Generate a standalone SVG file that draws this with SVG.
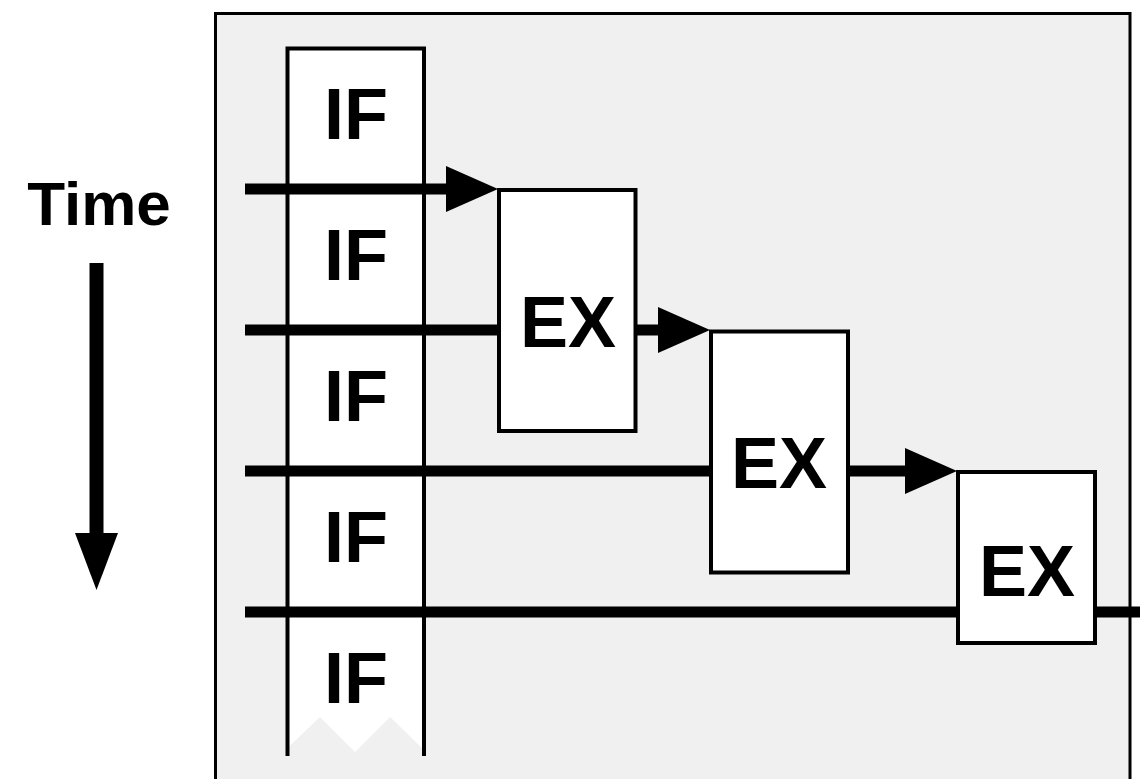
<svg xmlns="http://www.w3.org/2000/svg" width="1143" height="779" viewBox="0 0 1143 779">
  <style>
    .lbl { font-family: "Liberation Sans", Arial, sans-serif; font-weight: bold; fill: #000; text-anchor: middle; }
    .if { font-size: 72px; }
    .ex { font-size: 72px; }
    .box { fill: #fff; stroke: #000; stroke-width: 4; }
    .wire { stroke: #000; stroke-width: 11; fill: none; }
    .head { fill: #000; }
  </style>

  <rect width="1143" height="779" fill="#fff"/>

  <!-- outer frame (continues below the visible area) -->
  <rect id="frame" x="215.5" y="13.5" width="914.5" height="800" fill="#f0f0f0" stroke="#000" stroke-width="3"/>

  <!-- time axis -->
  <g id="time">
    <text class="lbl" x="99" y="225" font-size="62">Time</text>
    <line x1="96.5" y1="263" x2="96.5" y2="536" stroke="#000" stroke-width="14"/>
    <polygon class="head" points="75,533 118,533 96.5,590"/>
  </g>

  <!-- instruction-fetch column with torn bottom edge -->
  <g id="if-column">
    <polygon points="287.5,48.5 424,48.5 424,750 390,717 355,752 320,717 287.5,748" fill="#fff"/>
    <polyline points="287.5,756 287.5,48.5 424,48.5 424,756" fill="none" stroke="#000" stroke-width="4"/>
    <text class="lbl if" x="356" y="139">IF</text>
    <text class="lbl if" x="356" y="280">IF</text>
    <text class="lbl if" x="356" y="421">IF</text>
    <text class="lbl if" x="356" y="562">IF</text>
    <text class="lbl if" x="356" y="703">IF</text>
  </g>

  <!-- connectors -->
  <g id="connectors">
    <line class="wire" x1="245" y1="189" x2="448" y2="189"/>
    <polygon class="head" points="446,166 498,189 446,212"/>

    <line class="wire" x1="245" y1="330" x2="500" y2="330"/>
    <line class="wire" x1="636" y1="330" x2="660" y2="330"/>
    <polygon class="head" points="658,307 710,330 658,353"/>

    <line class="wire" x1="245" y1="471" x2="712" y2="471"/>
    <line class="wire" x1="848" y1="471" x2="907" y2="471"/>
    <polygon class="head" points="905,448 957,471 905,494"/>

    <line class="wire" x1="245" y1="612" x2="959" y2="612"/>
    <line class="wire" x1="1095" y1="612" x2="1140" y2="612"/>
  </g>

  <!-- execute stages -->
  <g id="ex1">
    <rect class="box" x="499" y="190" width="136.5" height="241"/>
    <text class="lbl ex" x="568" y="347">EX</text>
  </g>
  <g id="ex2">
    <rect class="box" x="711" y="331.5" width="137" height="241"/>
    <text class="lbl ex" x="779" y="488">EX</text>
  </g>
  <g id="ex3">
    <rect class="box" x="958" y="472" width="137" height="171"/>
    <text class="lbl ex" x="1027" y="596">EX</text>
  </g>
</svg>
